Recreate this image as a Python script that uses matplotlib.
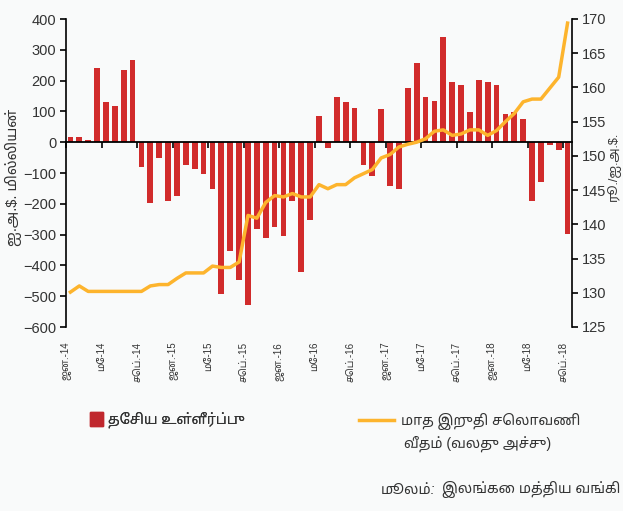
import numpy as np
import matplotlib
matplotlib.use("Agg")
import matplotlib.pyplot as plt
import matplotlib.transforms as mtransforms
from matplotlib import font_manager
from matplotlib.ft2font import FT2Font
from matplotlib.patches import Patch
from matplotlib.lines import Line2D

# Monthly data, Jan 2014 - Sep 2018
reserves = [18, 18, 8, 241, 131, 118, 236, 268, -82, -198, -52, -192,
            -175, -75, -86, -103, -153, -492, -353, -449, -527, -282, -310, -276,
            -303, -192, -420, -253, 86, -20, 147, 130, 112, -75, -109, 108,
            -143, -153, 175, 258, 147, 135, 341, 197, 186, 97, 202, 197,
            186, 91, 97, 75, -191, -130, -10, -25, -298]

exchange_rate = [130.1, 131.0, 130.2, 130.2, 130.2, 130.2, 130.2, 130.2, 130.2, 131.0, 131.2, 131.2,
                 132.1, 132.9, 132.9, 132.9, 133.9, 133.7, 133.7, 134.5, 141.3, 140.9, 143.2, 144.2,
                 144.0, 144.5, 144.0, 144.0, 145.8, 145.2, 145.8, 145.8, 146.8, 147.4, 148.0, 149.7,
                 150.2, 151.3, 151.7, 152.0, 152.5, 153.6, 153.8, 153.0, 153.2, 153.8, 153.8, 153.0,
                 153.7, 155.0, 156.2, 157.9, 158.3, 158.3, 159.9, 161.5, 169.4]

tick_labels = ["ஜன.-14", "மே-14", "செப்.-14", "ஜன.-15", "மே-15", "செப்.-15",
               "ஜன.-16", "மே-16", "செப்.-16", "ஜன.-17", "மே-17", "செப்.-17",
               "ஜன.-18", "மே-18", "செப்.-18"]

left_ticks = [-600, -500, -400, -300, -200, -100, 0, 100, 200, 300, 400]
right_ticks = [125, 130, 135, 140, 145, 150, 155, 160, 165, 170]


def find_tamil_font():
    """Pick an installed font with Tamil glyphs, sans and non-mono if possible"""
    found = []
    for f in font_manager.fontManager.ttflist:
        try:
            if 0x0BA4 in FT2Font(f.fname).get_charmap():
                found.append(f.name)
        except Exception:
            pass
    if not found:
        return None

    def score(name):
        n = name.lower()
        s = 0
        if "mono" in n:
            s += 10
        if "tamil" in n:
            s -= 3
        if "sans" in n:
            s -= 1
        return s
    return sorted(set(found), key=score)[0]


tamil = find_tamil_font()
families = ["Liberation Sans", tamil, "DejaVu Sans"] if tamil else ["Liberation Sans", "DejaVu Sans"]
plt.rcParams["font.family"] = families

bg = "#f9fafa"
bar_color = "#d12b2b"
line_color = "#fdb42d"
text_color = "#333333"

fig = plt.figure(figsize=(6.23, 5.11), dpi=100, facecolor=bg)
ax = fig.add_axes([66 / 623, 1 - 327 / 511, 506 / 623, 308 / 511])
ax.set_facecolor(bg)

x = np.arange(len(reserves))
ax.bar(x, reserves, width=0.65, color=bar_color, zorder=2)
ax.set_xlim(-0.5, len(reserves) - 0.5)
ax.set_ylim(-600, 400)
ax.set_yticks(left_ticks)
ax.tick_params(axis="y", labelsize=10.5, length=4, width=1.2, pad=3, labelcolor=text_color)

# zero line with the category ticks
ax.spines["bottom"].set_position(("data", 0))
ax.spines["bottom"].set_linewidth(1.3)
ax.spines["bottom"].set_zorder(3)
ax.spines["top"].set_visible(False)
ax.spines["right"].set_visible(False)
ax.spines["left"].set_linewidth(1.2)
tick_pos = np.arange(-0.5, len(reserves) - 1, 4)
ax.set_xticks(tick_pos)
ax.tick_params(axis="x", length=4, width=1.2, labelbottom=False)

trans = mtransforms.blended_transform_factory(ax.transData, ax.transAxes)
for pos, lab in zip(tick_pos, tick_labels):
    ax.text(pos, -0.048, lab, transform=trans, rotation=90, ha="center", va="top",
            fontsize=7, color=text_color)

ax2 = ax.twinx()
ax2.plot(x, exchange_rate, color=line_color, lw=2.5, solid_joinstyle="round")
ax2.set_ylim(125, 170)
ax2.set_yticks(right_ticks)
ax2.tick_params(axis="y", labelsize=10.5, length=4, width=1.2, pad=3, labelcolor=text_color)
for s in ["top", "left", "bottom"]:
    ax2.spines[s].set_visible(False)
ax2.spines["right"].set_linewidth(1.2)

fig.text(13 / 623, 1 - 177 / 511, "ஐ.அ.$. மில்லியன்", rotation=90, ha="center", va="center",
         fontsize=10.5, color=text_color)
fig.text(614 / 623, 1 - 166 / 511, "ரூ./ஐ.அ.$.", rotation=90, ha="center", va="center",
         fontsize=9, color=text_color)

# legends
leg1 = fig.legend(handles=[Patch(color="#c0272d")], labels=["தேசிய உள்ளீர்ப்பு"],
                  loc="center left", bbox_to_anchor=(77 / 623, 1 - 420 / 511), frameon=False,
                  fontsize=10.2, handlelength=0.9, handleheight=1.15, handletextpad=0.4,
                  labelcolor=text_color)
leg2 = fig.legend(handles=[Line2D([], [], color=line_color, lw=2.5)],
                  labels=["மாத இறுதி செலாவணி"],
                  loc="center left", bbox_to_anchor=(346 / 623, 1 - 421 / 511), frameon=False,
                  fontsize=10.2, handlelength=2.5, handletextpad=0.5, labelcolor=text_color)
fig.add_artist(leg1)
fig.text(404 / 623, 1 - 445 / 511, "வீதம் (வலது அச்சு)", ha="left", va="center",
         fontsize=10.2, color=text_color)

# source note: italic prefix placed just left of the main text
src = fig.text(620 / 623, 1 - 490 / 511, "இலங்கை மத்திய வங்கி", ha="right", va="center",
               fontsize=10.2, color=text_color)
renderer = fig.canvas.get_renderer()
src_left = src.get_window_extent(renderer).x0
fig.text((src_left - 6) / 623, 1 - 490 / 511, "மூலம்:", ha="right", va="center", fontsize=10.2,
         style="italic", color=text_color)

fig.savefig("out.png", dpi=100, facecolor=bg)
